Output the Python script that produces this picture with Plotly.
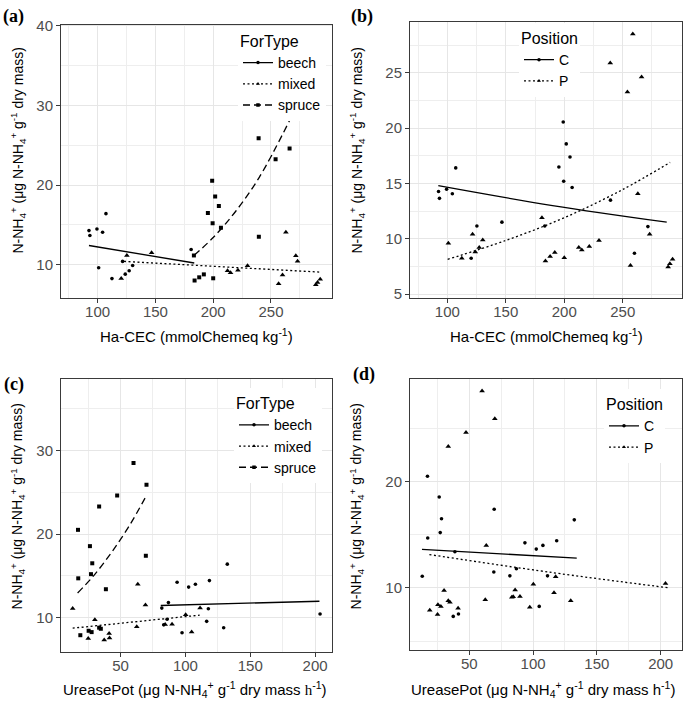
import plotly.graph_objects as go

# ---------------- data: panels (a)/(b)  Ha-CEC vs N-NH4+ ----------------
cec = [92.5, 93.3, 99.4, 104.3, 107.2, 100.9, 112.4, 123.9, 127.3, 130.3, 121.6, 180.9,
       120.4, 125.3, 146.7, 212.4, 215.0, 221.4, 229.7, 262.9, 271.5, 273.0, 260.0, 256.6, 288.8, 290.3, 292.6,
       199.1, 201.7, 204.9, 195.4, 199.5, 206.7, 239.5, 183.3, 183.9, 187.9, 191.9, 200.0, 258.6, 239.3, 266.1, 254.0]
nh4_cec = [14.27, 13.65, 14.47, 14.06, 16.40, 9.60, 8.24, 8.80, 9.22, 9.88, 10.40, 11.89,
           8.24, 11.15, 11.50, 9.22, 8.98, 9.30, 9.84, 14.06, 11.10, 10.41, 8.69, 7.58, 7.46, 7.74, 8.15,
           20.54, 18.57, 17.38, 16.48, 15.20, 14.63, 13.49, 11.15, 8.00, 8.40, 8.77, 8.28, 28.49, 25.87, 24.60, 23.25]
fortype_cec = ["beech"] * 12 + ["mixed"] * 15 + ["spruce"] * 16
position_cec = ["C", "C", "C", "C", "C", "P", "P", "P", "P", "P", "P", "P",
                "C", "C", "C", "P", "P", "P", "P", "P", "C", "P", "C", "P", "P", "P", "P",
                "C", "C", "C", "C", "C", "C", "C", "C", "P", "P", "P", "P", "P", "P", "P", "P"]

# ---------------- data: panels (c)/(d)  UreasePot vs N-NH4+ ----------------
urease = [60.0, 70.0, 47.4, 33.5, 17.2, 26.4, 28.2, 69.5, 27.2, 17.4, 38.7, 19.0, 25.4, 27.7, 33.5, 34.8,
          63.3, 69.2, 13.1, 30.2, 62.5, 25.1, 37.4, 41.2, 41.5, 111.3, 100.2, 84.4, 89.7, 104.8,
          132.3, 93.6, 118.5, 102.5, 107.7, 86.9, 81.8, 117.7, 85.9, 83.3, 116.4, 97.4, 129.5, 203.8]
nh4_ure = [28.5, 25.9, 24.6, 23.3, 20.5, 18.55, 16.5, 17.4, 15.2, 14.7, 13.4, 7.9, 8.43, 8.27, 8.8, 8.67,
           14.0, 11.5, 11.1, 9.76, 8.9, 7.5, 7.33, 8.1, 7.56, 11.14, 10.35, 9.18, 9.2, 8.27,
           16.4, 14.24, 14.43, 13.65, 14.0, 11.8, 11.14, 11.06, 9.8, 9.14, 9.56, 8.2, 8.79, 10.43]
fortype_ure = ["spruce"] * 16 + ["mixed"] * 14 + ["beech"] * 14
position_ure = ["P", "P", "P", "P", "C", "C", "C", "C", "C", "C", "C", "P", "P", "P", "P", "P",
                "P", "C", "C", "P", "P", "P", "C", "P", "C", "C", "P", "P", "P", "C",
                "C", "C", "C", "C", "C", "C", "C", "P", "P", "P", "P", "P", "P", "P"]

# ---------------- fitted curves ----------------
fit_a_beech_x, fit_a_beech_y = [92.5, 183.6], [12.4, 10.2]
fit_a_mixed_x, fit_a_mixed_y = [122.8, 293.0], [10.4, 9.05]
fit_a_spruce_x, fit_a_spruce_y = [183.3, 200, 220, 240, 266.4], [11.15, 13.4, 16.8, 21.0, 28.2]
fit_b_C_x, fit_b_C_y = [92.3, 190, 287.6], [14.8, 13.0, 11.5]
fit_b_P_x, fit_b_P_y = [100.3, 150, 200, 250, 290.5], [8.14, 9.85, 11.9, 14.45, 16.9]
fit_c_beech_x, fit_c_beech_y = [81.0, 203.3], [11.45, 11.96]
fit_c_mixed_x, fit_c_mixed_y = [13.1, 111.0], [8.74, 10.3]
fit_c_spruce_x, fit_c_spruce_y = [16.9, 30, 43.5, 57, 70.2], [12.94, 15.15, 17.9, 21.05, 24.67]
fit_d_C_x, fit_d_C_y = [12.9, 134.2], [13.63, 12.8]
fit_d_P_x, fit_d_P_y = [18.7, 113, 207.3], [13.14, 11.48, 10.0]

# tick values
ticks_x_cec = [100, 150, 200, 250]
minor_x_cec = [75, 125, 175, 225, 275]
ticks_y_a = [10, 20, 30, 40]
minor_y_a = [15, 25, 35]
ticks_y_b = [5, 10, 15, 20, 25]
minor_y_b = [7.5, 12.5, 17.5, 22.5, 27.5]
ticks_x_ure = [50, 100, 150, 200]
minor_x_ure = [25, 75, 125, 175]
ticks_y_c = [10, 20, 30]
minor_y_c = [15, 25, 35]
ticks_y_d = [10, 20]
minor_y_d = [5, 15, 25]

FONT = "Liberation Sans, Arial, sans-serif"
SERIF = "Liberation Serif, Times New Roman, serif"
W, H = 685, 710


def fx(p):
    return p / W


def fy(p):
    return 1 - p / H


sym_for = {"beech": "circle", "mixed": "triangle-up", "spruce": "square"}
size_for = {"beech": 3.6, "mixed": 5.0, "spruce": 4.0}
dash_for = {"beech": "solid", "mixed": "2px,2.5px", "spruce": "7px,4px"}
sym_pos = {"C": "circle", "P": "triangle-up"}
size_pos = {"C": 3.6, "P": 5.0}
dash_pos = {"C": "solid", "P": "2px,2.5px"}

fig = go.Figure()


def add_points(xs, ys, groups, order, syms, sizes, xa, ya):
    for g in order:
        px = [x for x, gg in zip(xs, groups) if gg == g]
        py = [y for y, gg in zip(ys, groups) if gg == g]
        fig.add_trace(go.Scatter(x=px, y=py, mode="markers", showlegend=False,
                                 marker=dict(symbol=syms[g], size=sizes[g], color="black"),
                                 xaxis=xa, yaxis=ya, hoverinfo="x+y"))


def add_line(xs, ys, dash, xa, ya, smooth=False):
    fig.add_trace(go.Scatter(x=xs, y=ys, mode="lines", showlegend=False,
                             line=dict(color="black", width=1.3, dash=dash,
                                       shape="spline" if smooth else "linear"),
                             xaxis=xa, yaxis=ya, hoverinfo="skip"))


def add_legend_item(name, sym, size, dash, legend, xa, ya):
    fig.add_trace(go.Scatter(x=[None], y=[None], mode="lines+markers", name=name,
                             line=dict(color="black", width=1.3, dash=dash),
                             marker=dict(symbol=sym, size=size, color="black"),
                             legend=legend, xaxis=xa, yaxis=ya))


# panel a
add_points(cec, nh4_cec, fortype_cec, ["beech", "mixed", "spruce"], sym_for, size_for, "x", "y")
add_line(fit_a_beech_x, fit_a_beech_y, dash_for["beech"], "x", "y")
add_line(fit_a_mixed_x, fit_a_mixed_y, dash_for["mixed"], "x", "y")
add_line(fit_a_spruce_x, fit_a_spruce_y, dash_for["spruce"], "x", "y", smooth=True)
for g in ["beech", "mixed", "spruce"]:
    add_legend_item(g, sym_for[g], 3.5, dash_for[g], "legend", "x", "y")

# panel b
add_points(cec, nh4_cec, position_cec, ["C", "P"], sym_pos, size_pos, "x2", "y2")
add_line(fit_b_C_x, fit_b_C_y, dash_pos["C"], "x2", "y2", smooth=True)
add_line(fit_b_P_x, fit_b_P_y, dash_pos["P"], "x2", "y2", smooth=True)
for g in ["C", "P"]:
    add_legend_item(g, sym_pos[g], 3.5, dash_pos[g], "legend2", "x2", "y2")

# panel c
add_points(urease, nh4_ure, fortype_ure, ["beech", "mixed", "spruce"], sym_for, size_for, "x3", "y3")
add_line(fit_c_beech_x, fit_c_beech_y, dash_for["beech"], "x3", "y3")
add_line(fit_c_mixed_x, fit_c_mixed_y, dash_for["mixed"], "x3", "y3")
add_line(fit_c_spruce_x, fit_c_spruce_y, dash_for["spruce"], "x3", "y3", smooth=True)
for g in ["beech", "mixed", "spruce"]:
    add_legend_item(g, sym_for[g], 3.5, dash_for[g], "legend3", "x3", "y3")

# panel d
add_points(urease, nh4_ure, position_ure, ["C", "P"], sym_pos, size_pos, "x4", "y4")
add_line(fit_d_C_x, fit_d_C_y, dash_pos["C"], "x4", "y4")
add_line(fit_d_P_x, fit_d_P_y, dash_pos["P"], "x4", "y4", smooth=True)
for g in ["C", "P"]:
    add_legend_item(g, sym_pos[g], 3.5, dash_pos[g], "legend4", "x4", "y4")


def axis(domain, rng, ticks, minor, anchor, is_x):
    d = dict(domain=domain, range=rng, tickvals=ticks, ticktext=[str(t) for t in ticks],
             showgrid=True, gridcolor="#e6e6e6", gridwidth=1.3,
             minor=dict(tickvals=minor, showgrid=True, gridcolor="#eeeeee", gridwidth=0.8, ticks=""),
             showline=True, mirror=True, linecolor="#3a3a3a", linewidth=1,
             ticks="outside", ticklen=4, tickwidth=1, tickcolor="#3a3a3a",
             tickfont=dict(size=15, color="#4d4d4d", family=FONT),
             zeroline=False, anchor=anchor, fixedrange=True)
    if is_x:
        d["ticklabelstandoff"] = -4
    return d


dom_x_left = [fx(61), fx(332)]
dom_x_right = [fx(410), fx(681.7)]

fig.update_layout(
    width=W, height=H, autosize=False,
    margin=dict(l=0, r=0, t=0, b=0),
    paper_bgcolor="white", plot_bgcolor="white",
    font=dict(family=FONT, color="black", size=15),
    xaxis=axis(dom_x_left, [68.3, 302.8], ticks_x_cec, minor_x_cec, "y", True),
    yaxis=axis([fy(295), fy(17)], [5.8, 40.15], ticks_y_a, minor_y_a, "x", False),
    xaxis2=axis(dom_x_right, [68.1, 300.4], ticks_x_cec, minor_x_cec, "y2", True),
    yaxis2=axis([fy(295), fy(14)], [4.65, 29.6], ticks_y_b, minor_y_b, "x2", False),
    xaxis3=axis(dom_x_left, [4.1, 213.0], ticks_x_ure, minor_x_ure, "y3", True),
    yaxis3=axis([fy(655), fy(377.7)], [5.9, 38.5], ticks_y_c, minor_y_c, "x3", False),
    xaxis4=axis(dom_x_right, [3.5, 216.5], ticks_x_ure, minor_x_ure, "y4", True),
    yaxis4=axis([fy(653.3), fy(377.7)], [4.15, 29.6], ticks_y_d, minor_y_d, "x4", False),
)

leg_common = dict(xanchor="left", yanchor="top", bgcolor="white", borderwidth=0,
                  font=dict(size=14, family=FONT, color="black"), itemclick=False, itemdoubleclick=False)
fig.update_layout(
    legend=dict(x=fx(238), y=fy(18.5), title=dict(text="ForType", font=dict(size=16)), **leg_common),
    legend2=dict(x=fx(519), y=fy(15.5), title=dict(text="Position", font=dict(size=16)), **leg_common),
    legend3=dict(x=fx(234), y=fy(387), title=dict(text="ForType", font=dict(size=16)), **leg_common),
    legend4=dict(x=fx(604), y=fy(388), title=dict(text="Position", font=dict(size=16)), **leg_common),
)

ytitle = "N-NH<sub>4</sub><sup>+</sup> (μg N-NH<sub>4</sub><sup>+</sup> g<sup>-1</sup> dry mass)"
xtitle_cec = "Ha-CEC (mmolChemeq kg<sup>-1</sup>)"
xtitle_c = ("UreasePot (μg N-NH<sub>4</sub><sup>+</sup> g<sup>-1</sup> dry mass "
            "<span style='font-family:Liberation Serif, Times New Roman, serif'>h</span><sup>-1</sup>)")
xtitle_d = "UreasePot (μg N-NH<sub>4</sub><sup>+</sup> g<sup>-1</sup> dry mass h<sup>-1</sup>)"

annots = [
    dict(text="<b>(a)</b>", x=fx(1), y=fy(9), font=dict(family=SERIF, size=18), xanchor="left"),
    dict(text="<b>(b)</b>", x=fx(349), y=fy(9), font=dict(family=SERIF, size=18), xanchor="left"),
    dict(text="<b>(c)</b>", x=fx(2), y=fy(383), font=dict(family=SERIF, size=18), xanchor="left"),
    dict(text="<b>(d)</b>", x=fx(351), y=fy(373), font=dict(family=SERIF, size=18), xanchor="left"),
    dict(text=ytitle, x=fx(18), y=fy(145), textangle=-90, font=dict(size=14)),
    dict(text=ytitle, x=fx(357), y=fy(145), textangle=-90, font=dict(size=14)),
    dict(text=ytitle, x=fx(18), y=fy(507), textangle=-90, font=dict(size=14)),
    dict(text=ytitle, x=fx(357), y=fy(507), textangle=-90, font=dict(size=14)),
    dict(text=xtitle_cec, x=fx(196.5), y=fy(333), font=dict(size=15)),
    dict(text=xtitle_cec, x=fx(546), y=fy(333), font=dict(size=15)),
    dict(text=xtitle_c, x=fx(195), y=fy(693), font=dict(size=15)),
    dict(text=xtitle_d, x=fx(543), y=fy(693), font=dict(size=15)),
]
for a in annots:
    a.update(xref="paper", yref="paper", showarrow=False, yanchor=a.get("yanchor", "middle"))
    a.setdefault("xanchor", "center")
fig.update_layout(annotations=annots)

fig.write_html("out.html", config={"displayModeBar": False},
               post_script="document.body.style.margin='0';document.body.style.overflow='hidden';")
